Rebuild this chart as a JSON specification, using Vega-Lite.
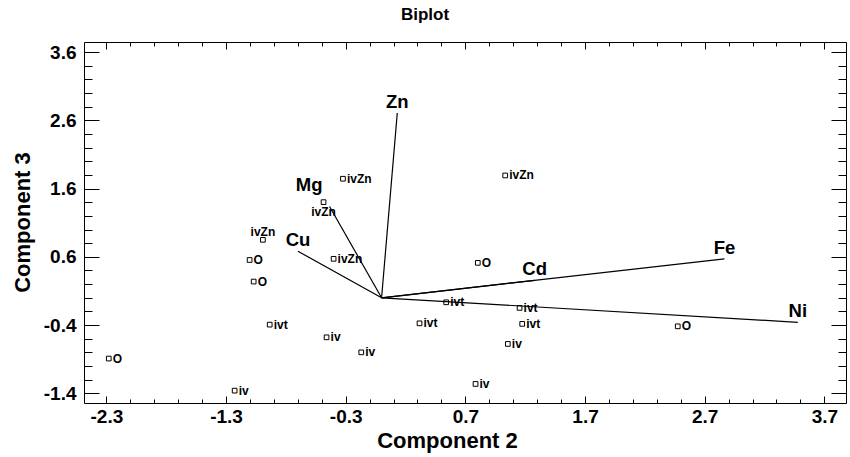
{
  "$schema": "https://vega.github.io/schema/vega-lite/v6.json",
  "autosize": "none",
  "width": 762,
  "height": 361,
  "padding": {"left": 84, "top": 42, "right": 4, "bottom": 54},
  "background": "white",
  "title": {"text": "Biplot", "font": "Liberation Sans", "fontSize": 17, "fontWeight": "bold", "color": "black", "anchor": "middle", "dx": -40, "baseline": "alphabetic", "offset": 5},
  "config": {
    "view": {"stroke": "black", "strokeWidth": 1},
    "axis": {"domain": false, "grid": false, "tickColor": "black", "tickWidth": 1, "labelFlush": false, "labelOverlap": false}
  },
  "datasets": {
    "points": [
      {"id": 1, "label": "O", "c2": -2.28, "c3": -0.89},
      {"id": 2, "label": "iv", "c2": -1.228, "c3": -1.36},
      {"id": 3, "label": "ivt", "c2": -0.935, "c3": -0.393},
      {"id": 4, "label": "ivZn", "c2": -0.992, "c3": 0.849},
      {"id": 5, "label": "O", "c2": -1.103, "c3": 0.554},
      {"id": 6, "label": "O", "c2": -1.069, "c3": 0.238},
      {"id": 7, "label": "ivZn", "c2": -0.485, "c3": 1.401},
      {"id": 8, "label": "ivZn", "c2": -0.323, "c3": 1.744},
      {"id": 9, "label": "ivZn", "c2": -0.401, "c3": 0.571},
      {"id": 10, "label": "iv", "c2": -0.46, "c3": -0.579},
      {"id": 11, "label": "iv", "c2": -0.17, "c3": -0.799},
      {"id": 12, "label": "ivt", "c2": 0.317, "c3": -0.374},
      {"id": 13, "label": "ivt", "c2": 0.54, "c3": -0.066},
      {"id": 14, "label": "ivt", "c2": 1.153, "c3": -0.148},
      {"id": 15, "label": "ivt", "c2": 1.175, "c3": -0.382},
      {"id": 16, "label": "iv", "c2": 1.055, "c3": -0.676},
      {"id": 17, "label": "iv", "c2": 0.785, "c3": -1.262},
      {"id": 18, "label": "O", "c2": 0.804, "c3": 0.512},
      {"id": 19, "label": "O", "c2": 2.475, "c3": -0.418},
      {"id": 20, "label": "ivZn", "c2": 1.033, "c3": 1.792}
    ],
    "vectors": [
      {"name": "Zn", "c2": 0.131, "c3": 2.706},
      {"name": "Mg", "c2": -0.435, "c3": 1.338},
      {"name": "Cu", "c2": -0.699, "c3": 0.682},
      {"name": "Fe", "c2": 2.865, "c3": 0.571},
      {"name": "Ni", "c2": 3.478, "c3": -0.359},
      {"name": "Cd", "c2": 1.279, "c3": 0.255}
    ]
  },
  "resolve": {"axis": {"x": "independent", "y": "independent"}},
  "layer": [
    {
      "data": {"name": "vectors"},
      "mark": {"type": "rule", "color": "black", "strokeWidth": 1.2},
      "encoding": {
        "x": {"field": "c2", "type": "quantitative",
          "scale": {"domain": [-2.487, 3.881], "nice": false, "zero": false},
          "axis": {"orient": "top", "title": null, "labels": false,
            "values": [-2.3,-2.1,-1.9,-1.7,-1.5,-1.3,-1.1,-0.9,-0.7,-0.5,-0.3,-0.1,0.1,0.3,0.5,0.7,0.9,1.1,1.3,1.5,1.7,1.9,2.1,2.3,2.5,2.7,2.9,3.1,3.3,3.5,3.7],
            "tickSize": {"condition": {"test": "round((datum.value+2.3)*10) % 10 == 0", "value": -7}, "value": -4}}},
        "y": {"field": "c3", "type": "quantitative",
          "scale": {"domain": [-1.541, 3.747], "nice": false, "zero": false},
          "axis": {"orient": "right", "title": null, "labels": false,
            "values": [-1.4,-1.2,-1.0,-0.8,-0.6,-0.4,-0.2,0,0.2,0.4,0.6,0.8,1.0,1.2,1.4,1.6,1.8,2.0,2.2,2.4,2.6,2.8,3.0,3.2,3.4,3.6],
            "tickSize": {"condition": {"test": "round((datum.value+1.4)*10) % 10 == 0", "value": -15}, "value": -8}}},
        "x2": {"datum": 0},
        "y2": {"datum": 0}
      }
    },
    {
      "data": {"name": "points"},
      "mark": {"type": "point", "shape": "square", "filled": false, "stroke": "black", "strokeWidth": 1, "size": 22, "opacity": 1},
      "encoding": {
        "x": {"field": "c2", "type": "quantitative",
          "scale": {"domain": [-2.487, 3.881], "nice": false, "zero": false},
          "axis": {"orient": "bottom", "title": "Component 2",
            "titleFont": "Liberation Sans", "titleFontSize": 22, "titleFontWeight": "bold", "titleColor": "black",
            "titleX": 363, "titleY": 44, "titleBaseline": "alphabetic", "titleAlign": "center", "titleAnchor": null,
            "labelFont": "Liberation Sans", "labelFontSize": 19, "labelFontWeight": "bold", "labelColor": "black", "labelPadding": 11,
            "values": [-2.3,-2.1,-1.9,-1.7,-1.5,-1.3,-1.1,-0.9,-0.7,-0.5,-0.3,-0.1,0.1,0.3,0.5,0.7,0.9,1.1,1.3,1.5,1.7,1.9,2.1,2.3,2.5,2.7,2.9,3.1,3.3,3.5,3.7],
            "labelExpr": "round((datum.value+2.3)*10) % 10 == 0 ? replace(format(datum.value, '.1f'), '\u2212', '-') : ''",
            "tickSize": {"condition": {"test": "round((datum.value+2.3)*10) % 10 == 0", "value": -7}, "value": -4}}},
        "y": {"field": "c3", "type": "quantitative",
          "scale": {"domain": [-1.541, 3.747], "nice": false, "zero": false},
          "axis": {"orient": "left", "title": "Component 3",
            "titleFont": "Liberation Sans", "titleFontSize": 22, "titleFontWeight": "bold", "titleColor": "black",
            "titleX": -55, "titleY": 180, "titleBaseline": "alphabetic", "titleAlign": "center", "titleAngle": -90, "titleAnchor": null,
            "labelFont": "Liberation Sans", "labelFontSize": 19, "labelFontWeight": "bold", "labelColor": "black", "labelPadding": 23,
            "values": [-1.4,-1.2,-1.0,-0.8,-0.6,-0.4,-0.2,0,0.2,0.4,0.6,0.8,1.0,1.2,1.4,1.6,1.8,2.0,2.2,2.4,2.6,2.8,3.0,3.2,3.4,3.6],
            "labelExpr": "round((datum.value+1.4)*10) % 10 == 0 ? replace(format(datum.value, '.1f'), '\u2212', '-') : ''",
            "tickSize": {"condition": {"test": "round((datum.value+1.4)*10) % 10 == 0", "value": -15}, "value": -8}}}
      }
    },
    {
      "data": {"name": "points"},
      "transform": [{"filter": "datum.id != 4 && datum.id != 7"}],
      "mark": {"type": "text", "align": "left", "baseline": "middle", "dx": 4, "font": "Liberation Sans", "fontSize": 12, "fontWeight": "bold", "color": "black"},
      "encoding": {
        "x": {"field": "c2", "type": "quantitative", "axis": null},
        "y": {"field": "c3", "type": "quantitative", "axis": null},
        "text": {"field": "label"}
      }
    },
    {
      "data": {"name": "points"},
      "transform": [{"filter": "datum.id == 4"}],
      "mark": {"type": "text", "align": "center", "baseline": "alphabetic", "dy": -4, "font": "Liberation Sans", "fontSize": 12, "fontWeight": "bold", "color": "black"},
      "encoding": {
        "x": {"field": "c2", "type": "quantitative", "axis": null},
        "y": {"field": "c3", "type": "quantitative", "axis": null},
        "text": {"field": "label"}
      }
    },
    {
      "data": {"name": "points"},
      "transform": [{"filter": "datum.id == 7"}],
      "mark": {"type": "text", "align": "center", "baseline": "top", "dy": 5, "font": "Liberation Sans", "fontSize": 12, "fontWeight": "bold", "color": "black"},
      "encoding": {
        "x": {"field": "c2", "type": "quantitative", "axis": null},
        "y": {"field": "c3", "type": "quantitative", "axis": null},
        "text": {"field": "label"}
      }
    },
    {
      "data": {"name": "vectors"},
      "transform": [{"filter": "datum.name != 'Mg'"}],
      "mark": {"type": "text", "align": "center", "baseline": "alphabetic", "dy": -5, "font": "Liberation Sans", "fontSize": 18.5, "fontWeight": "bold", "color": "black"},
      "encoding": {
        "x": {"field": "c2", "type": "quantitative", "axis": null},
        "y": {"field": "c3", "type": "quantitative", "axis": null},
        "text": {"field": "name"}
      }
    },
    {
      "data": {"name": "vectors"},
      "transform": [{"filter": "datum.name == 'Mg'"}],
      "mark": {"type": "text", "align": "right", "baseline": "alphabetic", "dx": -7, "dy": -15, "font": "Liberation Sans", "fontSize": 18.5, "fontWeight": "bold", "color": "black"},
      "encoding": {
        "x": {"field": "c2", "type": "quantitative", "axis": null},
        "y": {"field": "c3", "type": "quantitative", "axis": null},
        "text": {"field": "name"}
      }
    }
  ]
}
